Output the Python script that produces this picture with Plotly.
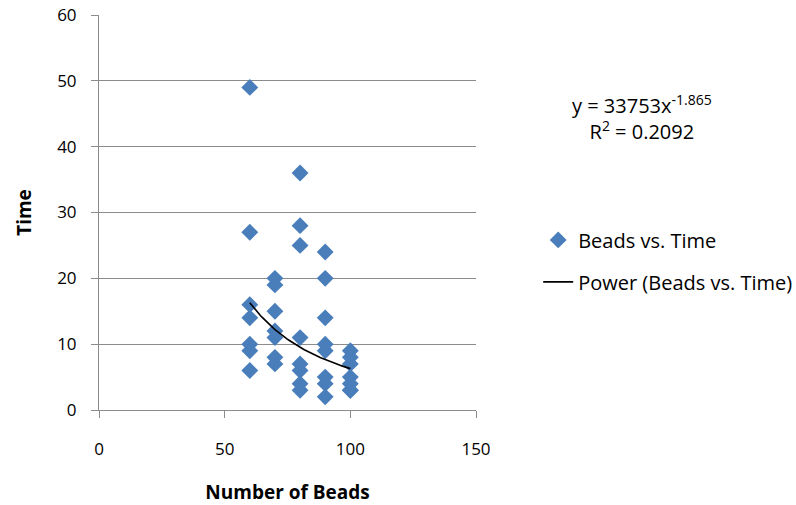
import numpy as np
import plotly.graph_objects as go

# Number of beads per trial and the time measured for each
beads = [60, 60, 60, 60, 60, 60, 60,
         70, 70, 70, 70, 70, 70, 70,
         80, 80, 80, 80, 80, 80, 80, 80,
         90, 90, 90, 90, 90, 90, 90, 90,
         100, 100, 100, 100, 100, 100, 100]
times = [49, 27, 16, 14, 10, 9, 6,
         20, 19, 15, 12, 11, 8, 7,
         36, 28, 25, 11, 7, 6, 4, 3,
         24, 20, 14, 10, 9, 5, 4, 2,
         9, 8, 7, 5, 4, 3, 3]

# Power trendline y = a * x^b
trend_a = 33753
trend_b = -1.865
trend_r2 = 0.2092

x_ticks = [0, 50, 100, 150]
y_ticks = [0, 10, 20, 30, 40, 50, 60]

FONT = "Open Sans"
AXIS_GRAY = "#8c8c8c"
BLUE = "#4a7ebb"
TEXT_SIZE = 20
TICK_SIZE = 17
TITLE_SIZE = 19

tx = np.linspace(min(beads), max(beads), 60)
ty = trend_a * tx ** trend_b

fig = go.Figure()
fig.add_trace(go.Scatter(
    x=beads, y=times, mode="markers", name="Beads vs. Time",
    marker=dict(symbol="diamond", size=13, color=BLUE, line=dict(width=0)),
    legendgroup="a",
))
fig.add_trace(go.Scatter(
    x=tx, y=ty, mode="lines", name="Power (Beads vs. Time)",
    line=dict(color="black", width=1.6),
    legendgroup="b",
))

# Trendline equation and goodness of fit
fig.add_annotation(
    text=f"y = {trend_a}x<sup>{trend_b}</sup><br>R<sup>2</sup> = {trend_r2}",
    xref="paper", yref="paper", x=1.44, y=0.7405,
    xanchor="center", yanchor="middle", align="center", showarrow=False,
    font=dict(family=FONT, size=TEXT_SIZE, color="#000000"),
)

fig.update_layout(
    width=796, height=505,
    margin=dict(l=99, r=320, t=15, b=95, autoexpand=False),
    paper_bgcolor="white", plot_bgcolor="white",
    font=dict(family=FONT, size=TICK_SIZE, color="#000000"),
    showlegend=True,
    legend=dict(
        x=1.165, y=0.48, xanchor="left", yanchor="top",
        tracegroupgap=13, bgcolor="rgba(0,0,0,0)",
        font=dict(family=FONT, size=TEXT_SIZE, color="#000000"),
    ),
    xaxis=dict(
        range=[0, 150], tickvals=x_ticks, showgrid=False, zeroline=False,
        showline=True, linecolor=AXIS_GRAY, linewidth=1,
        ticks="outside", ticklen=7, tickcolor=AXIS_GRAY,
        ticklabelstandoff=17, tickfont=dict(size=TICK_SIZE),
        title=dict(text="<b>Number of Beads</b>", standoff=26,
                   font=dict(family=FONT, size=TITLE_SIZE)),
    ),
    yaxis=dict(
        range=[0, 60], tickvals=y_ticks, showgrid=True, gridcolor=AXIS_GRAY,
        gridwidth=1, zeroline=False,
        showline=True, linecolor=AXIS_GRAY, linewidth=1,
        ticks="outside", ticklen=7, tickcolor=AXIS_GRAY,
        ticklabelstandoff=11, tickfont=dict(size=TICK_SIZE),
        title=dict(text="<b>Time</b>", standoff=20,
                   font=dict(family=FONT, size=TITLE_SIZE)),
    ),
)

fig.write_html("out.html")
